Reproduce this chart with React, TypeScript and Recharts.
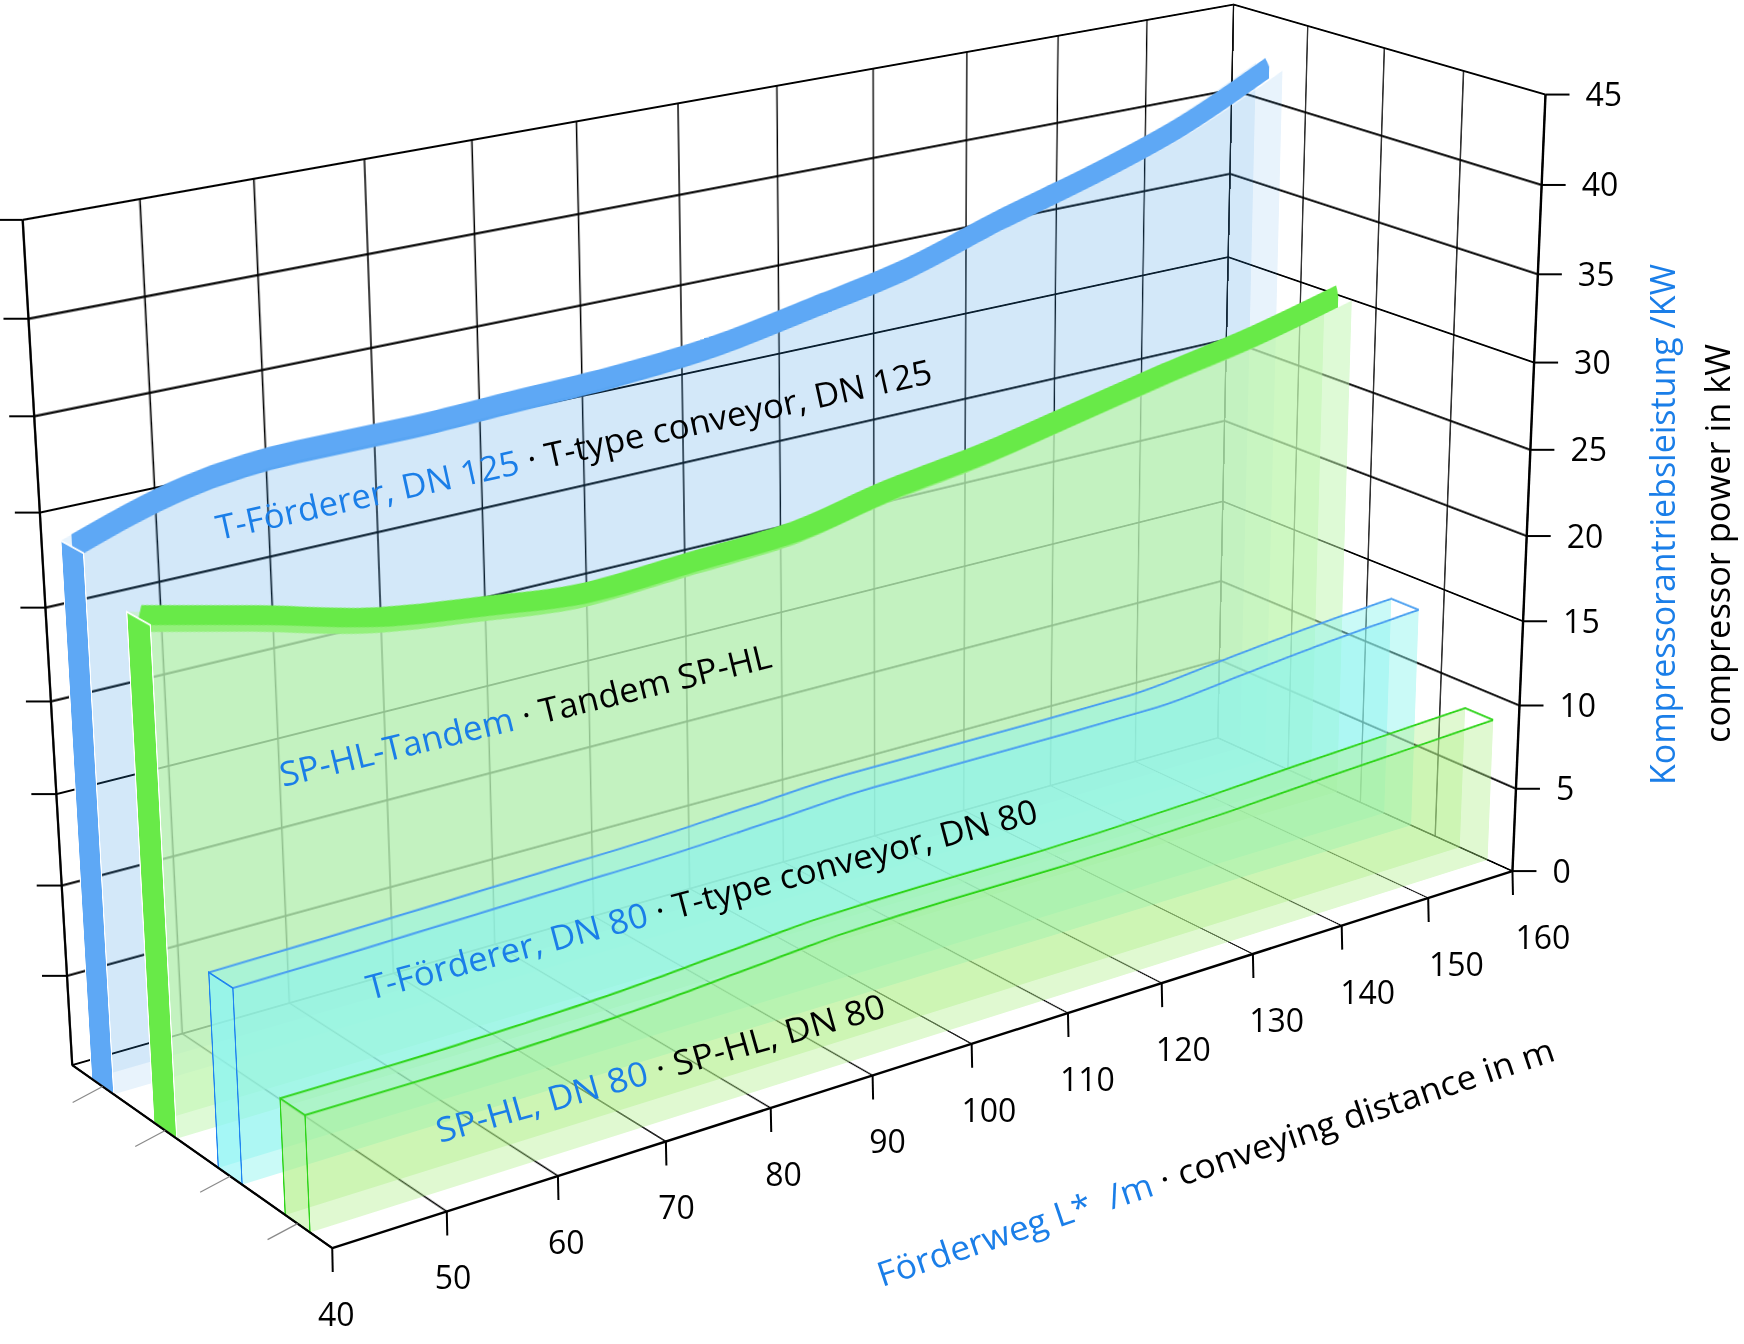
import React from 'react';
import {
  Area,
  Bar,
  BarChart,
  CartesianGrid,
  Cell,
  ComposedChart,
  Line,
  ReferenceLine,
  XAxis,
  YAxis,
} from 'recharts';

// conveying distance L* in m
const distances = [40, 50, 60, 70, 80, 90, 100, 110, 120, 130, 140, 150, 160];
// compressor power in kW, one list per conveyor, from the back row to the front row
const tFoerdererDn125 = [29.1, 30.9, 31.5, 31.5, 31.7, 31.9, 32.4, 33.4, 34.5, 36.2, 37.7, 39.5, 42.0];
const spHlTandem = [27.25, 25.85, 24.35, 23.55, 22.95, 23.25, 23.55, 24.65, 25.45, 26.55, 27.65, 28.65, 29.95];
const tFoerdererDn80 = [10.5, 10.6, 10.75, 10.9, 11.05, 11.35, 11.65, 11.65, 11.65, 11.7, 12.25, 12.8, 13.2];
const spHlDn80 = [6.2, 6.2, 6.3, 6.5, 6.9, 7.3, 7.4, 7.4, 7.5, 7.7, 8.0, 8.25, 8.5];

const powerTicks = [0, 5, 10, 15, 20, 25, 30, 35, 40, 45];
const depthLines = [0, 1, 2, 3, 4];
const seriesKeys = ['dn125', 'tandem', 'dn80', 'sphl'];
const labelsDe = ['T-Förderer, DN 125', 'SP-HL-Tandem', 'T-Förderer, DN 80', 'SP-HL, DN 80'];
const labelsEn = ['T-type conveyor, DN 125', 'Tandem SP-HL', 'T-type conveyor, DN 80', 'SP-HL, DN 80'];
const seriesValues = [tFoerdererDn125, spHlTandem, tFoerdererDn80, spHlDn80];

const FONT = '"Open Sans", "DejaVu Sans", sans-serif';
const BLUE_TEXT = '#1a7ee8';

interface Look {
  solid: boolean;
  band: string;
  bandWidth: number;
  fill: string;
  opacity: number;
  edge: string;
  cap: string;
  capOpacity: number;
  capEdge: string;
}

const looks: Look[] = [
  { solid: true, band: '#5ea8f5', bandWidth: 23, fill: '#3291e6', opacity: 0.11, edge: 'none', cap: '#5ea8f5', capOpacity: 1, capEdge: '#fff' },
  { solid: true, band: '#68ea48', bandWidth: 25, fill: '#bef5ae', opacity: 0.5, edge: 'none', cap: '#68ea48', capOpacity: 1, capEdge: '#fff' },
  { solid: false, band: '', bandWidth: 0, fill: '#8cf5ee', opacity: 0.46, edge: '#4a9ff0', cap: '#8cf5f5', capOpacity: 0.6, capEdge: '#1f84f0' },
  { solid: false, band: '', bandWidth: 0, fill: '#aef086', opacity: 0.38, edge: '#2fd41a', cap: '#aef086', capOpacity: 0.45, capEdge: '#2fd41a' },
];

// half of a ribbon's depth, in depth units (one unit per conveyor row)
const HALF_DEPTH = 0.18;

type W3 = [number, number, number]; // distance, depth row, power
type Pt = [number, number];

// where the box of the reference sits on the page, read at its grid corners and ticks
const CALIBRATION: Array<[W3, Pt]> = [
  [[40, 0, 45], [23.7, 222.7]],
  [[40, 0, 40], [28.7, 321.5]],
  [[40, 0, 35], [34.4, 418.3]],
  [[40, 0, 30], [40, 511]],
  [[40, 0, 25], [45, 604]],
  [[40, 0, 20], [50, 700]],
  [[40, 0, 15], [55, 789]],
  [[40, 0, 10], [60, 883]],
  [[40, 0, 5], [64.5, 971]],
  [[40, 0, 0], [69.2, 1060]],
  [[50, 0, 45], [138.5, 202.8]],
  [[60, 0, 45], [254.5, 183.7]],
  [[70, 0, 45], [363.6, 161.5]],
  [[80, 0, 45], [470.7, 143.5]],
  [[90, 0, 45], [576, 122.5]],
  [[110, 0, 45], [775.9, 86]],
  [[120, 0, 45], [874, 66.7]],
  [[130, 0, 45], [967.9, 50.7]],
  [[140, 0, 45], [1059.4, 33.3]],
  [[150, 0, 45], [1147.8, 17]],
  [[160, 0, 45], [1234.6, 1.8]],
  [[160, 1, 45], [1311.5, 27.5]],
  [[160, 2, 45], [1387.5, 46.3]],
  [[160, 3, 45], [1463.5, 70]],
  [[160, 4, 45], [1543.5, 90]],
  [[160, 0, 35], [1232, 176.7]],
  [[160, 0, 30], [1229, 263.5]],
  [[160, 0, 20], [1223, 423.3]],
  [[160, 4, 40], [1539.4, 180.6]],
  [[160, 4, 35], [1535, 271.7]],
  [[160, 4, 30], [1532, 361.7]],
  [[160, 4, 25], [1529, 450.8]],
  [[160, 4, 20], [1524, 535.8]],
  [[160, 4, 15], [1522, 621.7]],
  [[160, 4, 10], [1519, 706]],
  [[160, 4, 5], [1514.8, 789]],
  [[160, 4, 0], [1510.7, 872.7]],
  [[40, 4, 0], [326, 1251.7]],
  [[50, 4, 0], [448.7, 1212.7]],
  [[60, 4, 0], [566, 1175]],
  [[70, 4, 0], [667.9, 1143.3]],
  [[80, 4, 0], [773, 1108]],
  [[90, 4, 0], [874.3, 1076]],
  [[100, 4, 0], [972, 1045]],
  [[110, 4, 0], [1075.5, 1012]],
  [[120, 4, 0], [1165.7, 982.7]],
  [[130, 4, 0], [1252, 956]],
  [[140, 4, 0], [1337, 927.7]],
  [[150, 4, 0], [1428.5, 898.3]],
];

function solveLinear(a: number[][], b: number[]): number[] {
  const n = b.length;
  const m = a.map((row, i) => [...row, b[i]]);
  for (let c = 0; c < n; c++) {
    let best = c;
    for (let r = c + 1; r < n; r++) if (Math.abs(m[r][c]) > Math.abs(m[best][c])) best = r;
    [m[c], m[best]] = [m[best], m[c]];
    for (let r = 0; r < n; r++) {
      if (r === c) continue;
      const f = m[r][c] / m[c][c];
      for (let k = c; k <= n; k++) m[r][k] -= f * m[c][k];
    }
  }
  return m.map((row, i) => row[n] / row[i]);
}

const norm = ([d, z, p]: W3) => [(d - 100) / 60, (z - 2) / 2, (p - 22.5) / 22.5];

// least squares pinhole camera through the calibration points
function fitCamera(): number[] {
  const n = 11;
  const ata = Array.from({ length: n }, () => new Array(n).fill(0));
  const atb = new Array(n).fill(0);
  const add = (row: number[], rhs: number) => {
    for (let i = 0; i < n; i++) {
      atb[i] += row[i] * rhs;
      for (let j = 0; j < n; j++) ata[i][j] += row[i] * row[j];
    }
  };
  for (const [w, [u, v]] of CALIBRATION) {
    const [X, Y, Z] = norm(w);
    const U = (u - 800) / 600;
    const V = (v - 600) / 600;
    add([X, Y, Z, 1, 0, 0, 0, 0, -U * X, -U * Y, -U * Z], U);
    add([0, 0, 0, 0, X, Y, Z, 1, -V * X, -V * Y, -V * Z], V);
  }
  return solveLinear(ata, atb);
}

const CAMERA = fitCamera();

function project(w: W3): Pt {
  const [X, Y, Z] = norm(w);
  const c = CAMERA;
  const h = c[8] * X + c[9] * Y + c[10] * Z + 1;
  return [
    ((c[0] * X + c[1] * Y + c[2] * Z + c[3]) / h) * 600 + 800,
    ((c[4] * X + c[5] * Y + c[6] * Z + c[7]) / h) * 600 + 600,
  ];
}

function homography(src: Pt[], dst: Pt[]): number[] {
  const a: number[][] = [];
  const b: number[] = [];
  src.forEach(([x, y], i) => {
    const [u, v] = dst[i];
    a.push([x, y, 1, 0, 0, 0, -u * x, -u * y]);
    b.push(u);
    a.push([0, 0, 0, x, y, 1, -v * x, -v * y]);
    b.push(v);
  });
  return solveLinear(a, b);
}

function matrix3d(h: number[]): string {
  const [a, b, c, d, e, f, g, k] = h;
  return `matrix3d(${a},${d},0,${g},${b},${e},0,${k},0,0,1,0,${c},${f},0,1)`;
}

const PAD = 30;
const MARGIN = { top: PAD, right: PAD, bottom: PAD, left: PAD };
const FACE_W = 1300;
const FACE_H = 900;
const FLOOR_H = 360;
const SIDE_W = 460;

const facePlane = (z: number): W3[] => [[40, z, 45], [160, z, 45], [160, z, 0], [40, z, 0]];
const sidePlane = (d: number): W3[] => [[d, 0, 45], [d, 4, 45], [d, 4, 0], [d, 0, 0]];
const floorPlane: W3[] = [[40, 4, 0], [160, 4, 0], [160, 0, 0], [40, 0, 0]];

interface PlaneProps {
  world: W3[];
  width: number;
  height: number;
  children: React.ReactNode;
}

// a flat chart, warped onto one face of the 3D box
function Plane({ world, width, height, children }: PlaneProps) {
  const src: Pt[] = [[PAD, PAD], [width - PAD, PAD], [width - PAD, height - PAD], [PAD, height - PAD]];
  const h = homography(src, world.map(project));
  return (
    <div
      style={{
        position: 'absolute',
        left: 0,
        top: 0,
        width,
        height,
        transformOrigin: '0 0',
        transform: matrix3d(h),
      }}
    >
      {children}
    </div>
  );
}

const distanceRows = distances.map((d) => ({ d }));
const depthRows = depthLines.map((z) => ({ z }));
const seriesRows = seriesValues.map((values) => distances.map((d, k) => ({ d, p: values[k] })));
const capRows = seriesKeys.map((key, i) => ({ key, p: seriesValues[i][0] }));

const powerLines = (width: number) =>
  powerTicks.map((p) => (
    <ReferenceLine key={`h-${p}`} y={p} stroke="#000" strokeWidth={width} ifOverflow="visible" />
  ));

const distanceAxis = <XAxis type="number" dataKey="d" domain={[40, 160]} ticks={distances} allowDataOverflow hide />;
const depthAxis = <XAxis type="number" dataKey="z" domain={[0, 4]} ticks={depthLines} allowDataOverflow hide />;
const powerAxis = <YAxis type="number" domain={[0, 45]} ticks={powerTicks} allowDataOverflow hide />;

function BackWall() {
  return (
    <Plane world={facePlane(0)} width={FACE_W} height={FACE_H}>
      <ComposedChart width={FACE_W} height={FACE_H} data={distanceRows} margin={MARGIN}>
        {distanceAxis}
        {powerAxis}
        <CartesianGrid horizontal={false} verticalValues={distances} stroke="#000" strokeWidth={1.5} />
        {powerLines(2.2)}
      </ComposedChart>
    </Plane>
  );
}

function RightWall() {
  return (
    <Plane world={sidePlane(160)} width={SIDE_W} height={FACE_H}>
      <ComposedChart width={SIDE_W} height={FACE_H} data={depthRows} margin={MARGIN}>
        {depthAxis}
        {powerAxis}
        <CartesianGrid horizontal={false} verticalValues={depthLines} stroke="#000" strokeWidth={1.6} />
        {powerLines(2.2)}
      </ComposedChart>
    </Plane>
  );
}

function Floor() {
  return (
    <Plane world={floorPlane} width={FACE_W} height={FLOOR_H}>
      <ComposedChart width={FACE_W} height={FLOOR_H} data={distanceRows} margin={MARGIN}>
        {distanceAxis}
        <YAxis type="number" domain={[0, 4]} allowDataOverflow hide />
        <CartesianGrid horizontal={false} verticalValues={distances} stroke="#000" strokeWidth={1.7} />
      </ComposedChart>
    </Plane>
  );
}

function Face({ index, z, band }: { index: number; z: number; band?: boolean }) {
  const look = looks[index];
  return (
    <Plane world={facePlane(z)} width={FACE_W} height={FACE_H}>
      <ComposedChart width={FACE_W} height={FACE_H} data={seriesRows[index]} margin={MARGIN}>
        {distanceAxis}
        {powerAxis}
        {band ? (
          <Line
            type="monotone"
            dataKey="p"
            stroke={look.band}
            strokeWidth={look.bandWidth}
            dot={false}
            activeDot={false}
            isAnimationActive={false}
          />
        ) : (
          <Area
            type="monotone"
            dataKey="p"
            baseValue={0}
            fill={look.fill}
            fillOpacity={look.opacity}
            stroke={look.solid ? 'none' : look.edge}
            strokeWidth={2.2}
            dot={false}
            activeDot={false}
            isAnimationActive={false}
          />
        )}
      </ComposedChart>
    </Plane>
  );
}

function Ribbon({ index }: { index: number }) {
  const mid = index + 0.5;
  return (
    <>
      <Face index={index} z={mid - HALF_DEPTH} />
      {looks[index].solid && <Face index={index} z={mid} band />}
      <Face index={index} z={mid + HALF_DEPTH} />
    </>
  );
}

function StartCaps() {
  return (
    <Plane world={sidePlane(40)} width={SIDE_W} height={FACE_H}>
      <BarChart
        width={SIDE_W}
        height={FACE_H}
        data={capRows}
        margin={MARGIN}
        barCategoryGap={`${(0.5 - HALF_DEPTH) * 100}%`}
      >
        <XAxis dataKey="key" type="category" hide />
        {powerAxis}
        <Bar dataKey="p" isAnimationActive={false}>
          {capRows.map((row, i) => (
            <Cell
              key={row.key}
              fill={looks[i].cap}
              fillOpacity={looks[i].capOpacity}
              stroke={looks[i].capEdge}
              strokeWidth={2}
            />
          ))}
        </Bar>
      </BarChart>
    </Plane>
  );
}

function EndEdges() {
  return (
    <Plane world={sidePlane(160)} width={SIDE_W} height={FACE_H}>
      <ComposedChart width={SIDE_W} height={FACE_H} data={depthRows} margin={MARGIN}>
        {depthAxis}
        {powerAxis}
        {seriesValues.map((values, i) =>
          looks[i].solid ? null : (
            <ReferenceLine
              key={seriesKeys[i]}
              segment={[
                { x: i + 0.5 - HALF_DEPTH, y: values[values.length - 1] },
                { x: i + 0.5 + HALF_DEPTH, y: values[values.length - 1] },
              ]}
              stroke={looks[i].edge}
              strokeWidth={2.2}
              ifOverflow="visible"
            />
          ),
        )}
      </ComposedChart>
    </Plane>
  );
}

interface SlantProps {
  x: number;
  y: number;
  angle: number;
  length: number;
  de: string;
  en: string;
}

function SlantedLabel({ x, y, angle, length, de, en }: SlantProps) {
  return (
    <text
      x={x}
      y={y}
      transform={`rotate(${angle} ${x} ${y})`}
      fontSize={34}
      textLength={length}
      lengthAdjust="spacingAndGlyphs"
      style={{ whiteSpace: 'pre' }}
    >
      <tspan fill={BLUE_TEXT}>{de}</tspan>
      <tspan fill="#000">{` · ${en}`}</tspan>
    </text>
  );
}

const seriesLabelPlacement = [
  { x: 219, y: 540, angle: -12.4, length: 732 },
  { x: 283, y: 787, angle: -13.75, length: 505 },
  { x: 370, y: 1000, angle: -14.9, length: 693 },
  { x: 440, y: 1143, angle: -15.8, length: 465 },
];

function Overlay() {
  const seg = (a: Pt, b: Pt, key: string, stroke = '#000', width = 2.4) => (
    <line key={key} x1={a[0]} y1={a[1]} x2={b[0]} y2={b[1]} stroke={stroke} strokeWidth={width} />
  );
  const origin = project([40, 4, 0]);
  return (
    <svg width={1744} height={1344} style={{ position: 'absolute', left: 0, top: 0 }} fontFamily={FONT}>
      {seg(origin, project([160, 4, 0]), 'x-axis')}
      {seg(project([160, 4, 0]), project([160, 4, 45]), 'p-axis')}
      {seg(project([40, 0, 0]), origin, 'z-axis', '#000', 2.2)}
      {seg(project([40, 0, 0]), project([40, 0, 45]), 'back-left', '#000', 2)}

      {distances.map((d) => {
        const [x, y] = project([d, 4, 0]);
        return seg([x, y], [x + 0.5, y + 24], `xt-${d}`, '#000', 2);
      })}
      {distances.map((d, i) => {
        const [x, y] = project([d, 4, 0]);
        return (
          <text key={`xl-${d}`} x={x + 4 + 2.2 * i} y={y + 78} fontSize={32} textAnchor="middle" fill="#000">
            {String(d)}
          </text>
        );
      })}

      {powerTicks.map((p) => {
        const [x, y] = project([160, 4, p]);
        return seg([x, y], [x + 24, y], `pt-${p}`, '#000', 2);
      })}
      {powerTicks.map((p) => {
        const [x, y] = project([160, 4, p]);
        return (
          <text key={`pl-${p}`} x={x + 40} y={y + 11.5} fontSize={32} fill="#000">
            {String(p)}
          </text>
        );
      })}

      {powerTicks.slice(1).map((p) => {
        const [x, y] = project([40, 0, p]);
        return seg([x, y], [x - 25, y], `lt-${p}`, '#000', 2);
      })}
      {seriesKeys.map((key, i) => {
        const [x, y] = project([40, i + 0.5, 0]);
        return seg([x, y], [x - 30, y + 16], `zt-${key}`, '#8a8a8a', 1.2);
      })}

      {seriesLabelPlacement.map((place, i) => (
        <SlantedLabel key={seriesKeys[i]} {...place} de={labelsDe[i]} en={labelsEn[i]} />
      ))}

      <text
        x={882}
        y={1287}
        transform="rotate(-18.6 882 1287)"
        fontSize={34}
        textLength={712}
        lengthAdjust="spacingAndGlyphs"
        style={{ whiteSpace: 'pre' }}
      >
        <tspan fill={BLUE_TEXT}>{'Förderweg L*  /m'}</tspan>
        <tspan fill="#000">{' · conveying distance in m'}</tspan>
      </text>
      <text
        x={1675}
        y={785}
        transform="rotate(-90 1675 785)"
        fontSize={34}
        textLength={521}
        lengthAdjust="spacingAndGlyphs"
        fill={BLUE_TEXT}
        style={{ whiteSpace: 'pre' }}
      >
        {'Kompressorantriebsleistung /KW'}
      </text>
      <text
        x={1730}
        y={743}
        transform="rotate(-90 1730 743)"
        fontSize={34}
        textLength={399}
        lengthAdjust="spacingAndGlyphs"
        fill="#000"
      >
        compressor power in kW
      </text>
    </svg>
  );
}

export default function App() {
  return (
    <div
      style={{
        position: 'absolute',
        left: 0,
        top: 0,
        width: 1744,
        height: 1344,
        background: '#fff',
        overflow: 'hidden',
        fontFamily: FONT,
      }}
    >
      <BackWall />
      <RightWall />
      <Floor />
      {seriesKeys.map((key, i) => (
        <Ribbon key={key} index={i} />
      ))}
      <StartCaps />
      <EndEdges />
      <Overlay />
    </div>
  );
}
